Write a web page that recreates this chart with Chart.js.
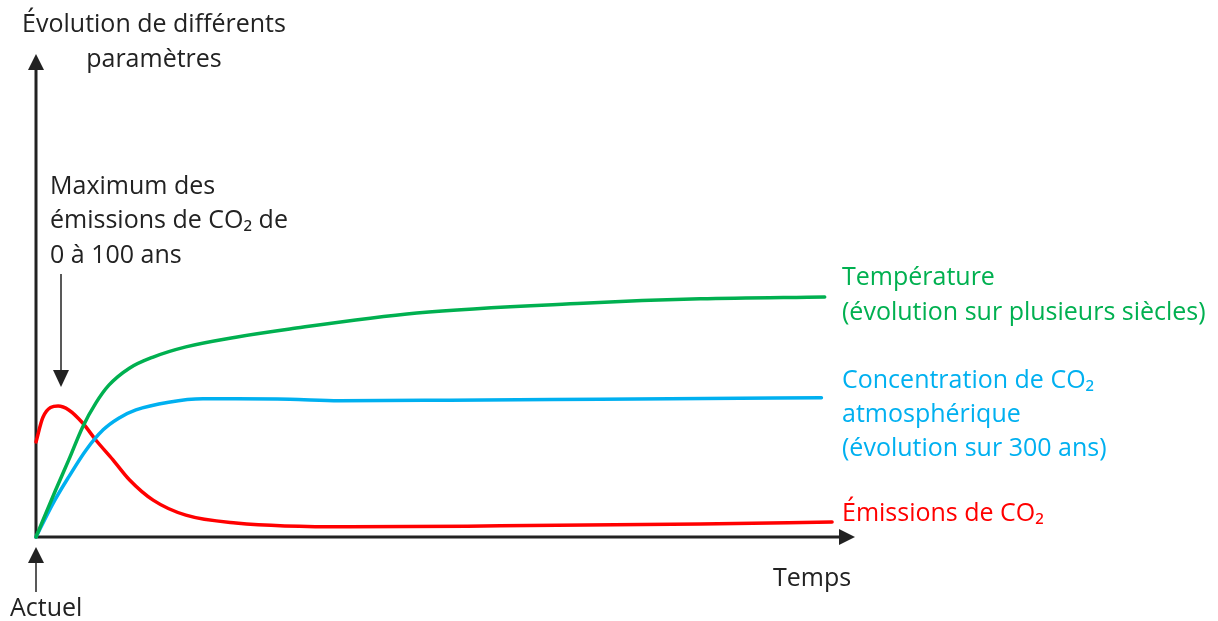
<!doctype html>
<html>
<head>
  <meta charset="utf-8">
  <title>Évolution de différents paramètres</title>
  <script src="https://cdn.jsdelivr.net/npm/chart.js"></script>
  <style>
    body { margin: 0; background: #fff; }
  </style>
</head>
<body>
  <canvas id="chart" width="1218" height="621"></canvas>
  <script>
    // time in arbitrary units (0 = now, 100 = end of the axis), values in arbitrary units
    const tempX = [0, 2.4, 4, 5.7, 7.3, 8.9, 11.4, 14.3, 18.3, 24.4, 31, 46.5, 66.8, 81.1, 96.3];
    const tempY = [0, 9.7, 15.9, 22.7, 27.6, 31.3, 34.8, 37.1, 39.2, 41.2, 42.9, 46.2, 48.2, 49.1, 49.5];

    const concX = [0, 2.1, 4, 6.1, 8.2, 10.1, 12.2, 16.2, 20.4, 24.4, 31, 37, 50.5, 68.9, 95.9];
    const concY = [0, 7, 12.4, 17.9, 22.1, 24.5, 26.2, 27.8, 28.5, 28.5, 28.4, 28.1, 28.2, 28.4, 28.7];

    const emisX = [0, 0.85, 2.7, 4, 5.7, 7.3, 9.4, 11.4, 14.3, 18.3, 24.4, 38.3, 56.7, 81.1, 97.2];
    const emisY = [19.6, 24.7, 27, 26.2, 23.5, 20, 15.9, 11.8, 7.6, 4.5, 2.9, 2.1, 2.3, 2.7, 3.1];

    const GREEN = '#00b050';
    const BLUE = '#00b0f0';
    const RED = '#ff0000';
    const TEXT = '#222222';
    const FONT = '25px "Open Sans"';

    function pts(xs, ys) {
      return xs.map((x, i) => ({ x: x, y: ys[i] }));
    }

    function arrowHead(ctx, x, y, dir, len, half) {
      ctx.beginPath();
      if (dir === 'up') {
        ctx.moveTo(x, y); ctx.lineTo(x - half, y + len); ctx.lineTo(x + half, y + len);
      } else if (dir === 'down') {
        ctx.moveTo(x, y); ctx.lineTo(x - half, y - len); ctx.lineTo(x + half, y - len);
      } else {
        ctx.moveTo(x, y); ctx.lineTo(x - len, y - half); ctx.lineTo(x - len, y + half);
      }
      ctx.closePath();
      ctx.fill();
    }

    const sketch = {
      id: 'sketch',
      beforeDatasetsDraw(chart) {
        const ctx = chart.ctx;
        const a = chart.chartArea;
        ctx.save();
        ctx.strokeStyle = TEXT;
        ctx.fillStyle = TEXT;
        ctx.lineWidth = 3;
        // axes
        ctx.beginPath();
        ctx.moveTo(a.left, a.top + 14);
        ctx.lineTo(a.left, a.bottom);
        ctx.lineTo(a.right - 14, a.bottom);
        ctx.stroke();
        arrowHead(ctx, a.left, a.top + 2, 'up', 16, 8);
        arrowHead(ctx, a.right, a.bottom, 'right', 16, 8);
        ctx.restore();
      },
      afterDraw(chart) {
        const ctx = chart.ctx;
        const a = chart.chartArea;
        ctx.save();
        ctx.fillStyle = TEXT;
        ctx.strokeStyle = TEXT;
        // "Actuel" arrow
        ctx.lineWidth = 1.5;
        ctx.beginPath();
        ctx.moveTo(a.left, 592); ctx.lineTo(a.left, 560); ctx.stroke();
        arrowHead(ctx, a.left, 547, 'up', 16, 8);
        // "Maximum" arrow
        ctx.beginPath();
        ctx.moveTo(61, 274); ctx.lineTo(61, 372); ctx.stroke();
        arrowHead(ctx, 61, 387, 'down', 17, 8);

        ctx.font = FONT;
        ctx.textBaseline = 'middle';
        ctx.textAlign = 'center';
        ctx.fillText('Évolution de différents', 154, 25);
        ctx.fillText('paramètres', 154, 60);
        ctx.textAlign = 'left';
        ctx.fillText('Maximum des', 50, 187);
        ctx.fillText('émissions de CO₂ de', 50, 221);
        ctx.fillText('0 à 100 ans', 50, 256);
        ctx.fillText('Temps', 773, 579);
        ctx.fillText('Actuel', 10, 609);

        ctx.fillStyle = GREEN;
        ctx.fillText('Température', 842, 278);
        ctx.fillText('(évolution sur plusieurs siècles)', 842, 313);
        ctx.fillStyle = BLUE;
        ctx.fillText('Concentration de CO₂', 842, 381);
        ctx.fillText('atmosphérique', 842, 415);
        ctx.fillText('(évolution sur 300 ans)', 842, 449);
        ctx.fillStyle = RED;
        ctx.fillText('Émissions de CO₂', 842, 514);
        ctx.restore();
      }
    };

    new Chart(document.getElementById('chart'), {
      type: 'line',
      data: {
        datasets: [
          { label: 'Température', data: pts(tempX, tempY), borderColor: GREEN },
          { label: 'Concentration de CO₂ atmosphérique', data: pts(concX, concY), borderColor: BLUE },
          { label: 'Émissions de CO₂', data: pts(emisX, emisY), borderColor: RED }
        ]
      },
      options: {
        responsive: false,
        animation: false,
        layout: { padding: { left: 36, right: 363, top: 52, bottom: 84 } },
        elements: {
          line: { borderWidth: 3.5, cubicInterpolationMode: 'monotone', borderCapStyle: 'round' },
          point: { radius: 0 }
        },
        clip: false,
        plugins: { legend: { display: false }, tooltip: { enabled: false } },
        scales: {
          x: { type: 'linear', min: 0, max: 100, display: false },
          y: { min: 0, max: 100, display: false }
        }
      },
      plugins: [sketch]
    });
  </script>
</body>
</html>
